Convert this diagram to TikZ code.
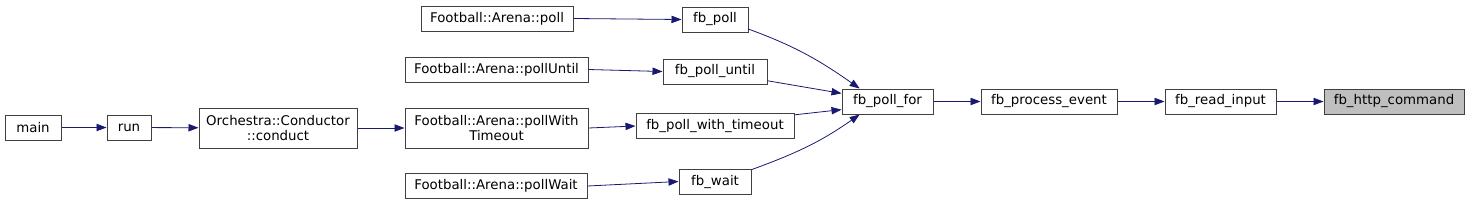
\documentclass[tikz,border=0pt]{standalone}
\usepackage{fontspec}
\setmainfont{DejaVu Sans}
\usetikzlibrary{arrows.meta}
\definecolor{edgeblue}{HTML}{191970}
\definecolor{boxline}{HTML}{404040}
\definecolor{boxgray}{HTML}{BFBFBF}

\begin{document}
\begin{tikzpicture}[x=0.75pt,y=0.75pt,
  fn/.style={draw=boxline,fill=white,line width=0.75pt,inner sep=0pt,
    minimum height=18.75pt,align=center,font=\fontsize{10}{11.25}\selectfont},
  call/.style={edgeblue,line width=0.6pt,-{Triangle[length=7.5pt,width=5.5pt]}}]
\useasboundingbox (0,0) rectangle (1469,-205);

% callers
\node[fn,minimum width=42pt] (main) at (33,-127.5) {main};
\node[fn,minimum width=33pt] (run) at (129,-127.5) {run};
\node[fn,minimum width=118.5pt,minimum height=30pt] (conduct) at (278,-128) {Orchestra::Conductor\\::conduct};

\node[fn,minimum width=114pt] (arenapoll) at (497,-18.5) {Football::Arena::poll};
\node[fn,minimum width=137.25pt] (arenapolluntil) at (496.5,-69.5) {Football::Arena::pollUntil};
\node[fn,minimum width=137.25pt,minimum height=30pt] (arenapollwithtimeout) at (496.5,-128) {Football::Arena::pollWith\\Timeout};
\node[fn,minimum width=136.5pt] (arenapollwait) at (496,-186) {Football::Arena::pollWait};

\node[fn,minimum width=49.5pt] (fbpoll) at (715,-19.5) {fb\_poll};
\node[fn,minimum width=78pt] (fbpolluntil) at (715,-71.5) {fb\_poll\_until};
\node[fn,minimum width=118.5pt] (fbpollwithtimeout) at (715,-126) {fb\_poll\_with\_timeout};
\node[fn,minimum width=54pt] (fbwait) at (715,-181.5) {fb\_wait};

% chain
\node[fn,minimum width=68.25pt] (fbpollfor) at (887.5,-101.5) {fb\_poll\_for};
\node[fn,minimum width=102pt] (fbprocessevent) at (1049,-101.5) {fb\_process\_event};
\node[fn,minimum width=83.25pt] (fbreadinput) at (1220.5,-101.5) {fb\_read\_input};
\node[fn,minimum width=105pt,fill=boxgray] (fbhttpcommand) at (1394,-101.5) {fb\_http\_command};

\draw[call] (main) -- (run);
\draw[call] (run) -- (conduct);
\draw[call] (conduct) -- (arenapollwithtimeout);

\draw[call] (arenapoll.east) -- (fbpoll.west);
\draw[call] (arenapolluntil.east) -- (fbpolluntil.west);
\draw[call] (arenapollwithtimeout.east) -- (fbpollwithtimeout.west);
\draw[call] (arenapollwait.east) -- (fbwait.west);

\draw[call] (fbpoll.-16) to[out=-20,in=145] (fbpollfor.155);
\draw[call] (fbpolluntil.-10) -- (fbpollfor.170);
\draw[call] (fbpollwithtimeout.8) -- (fbpollfor.190);
\draw[call] (fbwait.18) to[out=20,in=-145] (fbpollfor.205);

\draw[call] (fbpollfor) -- (fbprocessevent);
\draw[call] (fbprocessevent) -- (fbreadinput);
\draw[call] (fbreadinput) -- (fbhttpcommand);
\end{tikzpicture}
\end{document}
